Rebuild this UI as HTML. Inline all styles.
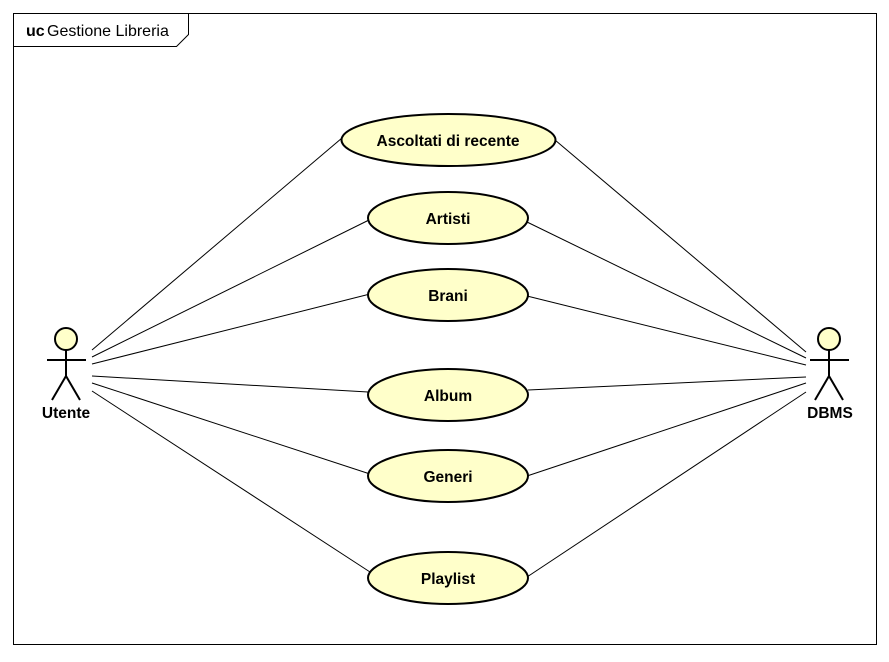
<!DOCTYPE html>
<html><head><style>body{margin:0;background:#fff}</style></head><body>
<svg width="889" height="657" xmlns="http://www.w3.org/2000/svg" font-family="Liberation Sans, sans-serif">
<rect x="0" y="0" width="889" height="657" fill="#fff"/>
<rect x="13.5" y="13.5" width="863" height="631" fill="none" stroke="#000" stroke-width="1"/>
<polyline points="13.5,46.5 176.5,46.5 188.5,34.5 188.5,13.5" fill="none" stroke="#000"/>
<text x="26" y="36" font-size="16" font-weight="bold">uc</text>
<text x="47" y="36" font-size="16">Gestione Libreria</text>
<g stroke="#000" stroke-width="1">
<line x1="92" y1="350" x2="342" y2="138"/>
<line x1="92" y1="357" x2="369" y2="220"/>
<line x1="92" y1="364" x2="370" y2="294"/>
<line x1="92" y1="376" x2="368" y2="392"/>
<line x1="92" y1="383" x2="370" y2="474"/>
<line x1="92" y1="391" x2="370" y2="572"/>
<line x1="555" y1="140" x2="806" y2="352"/>
<line x1="527" y1="222" x2="806" y2="358"/>
<line x1="527" y1="296" x2="806" y2="365"/>
<line x1="528" y1="390" x2="806" y2="377"/>
<line x1="527" y1="476" x2="806" y2="383"/>
<line x1="527" y1="577" x2="806" y2="392"/>
</g>
<g fill="#FFFFCA" stroke="#000" stroke-width="2">
<ellipse cx="448.5" cy="140" rx="107" ry="26"/>
<ellipse cx="448" cy="218" rx="80" ry="26"/>
<ellipse cx="448" cy="295" rx="80" ry="26"/>
<ellipse cx="448" cy="395" rx="80" ry="26"/>
<ellipse cx="448" cy="476" rx="80" ry="26"/>
<ellipse cx="448" cy="578" rx="80" ry="26"/>
</g>
<g font-size="15.5" font-weight="bold" text-anchor="middle">
<text x="448" y="146">Ascoltati di recente</text>
<text x="448" y="224">Artisti</text>
<text x="448" y="301">Brani</text>
<text x="448" y="401">Album</text>
<text x="448" y="482">Generi</text>
<text x="448" y="584">Playlist</text>
</g>
<g stroke="#000" stroke-width="2" fill="none">
<circle cx="66" cy="339" r="11" fill="#FFFFCA"/>
<line x1="66" y1="350" x2="66" y2="376"/>
<line x1="47" y1="360" x2="86" y2="360"/>
<polyline points="52,400 66,376 80,400"/>
<circle cx="829" cy="339" r="11" fill="#FFFFCA"/>
<line x1="829" y1="350" x2="829" y2="376"/>
<line x1="810" y1="360" x2="849" y2="360"/>
<polyline points="815,400 829,376 843,400"/>
</g>
<g font-size="15.5" font-weight="bold" text-anchor="middle">
<text x="66" y="418">Utente</text>
<text x="830" y="418">DBMS</text>
</g>
</svg>
</body></html>
